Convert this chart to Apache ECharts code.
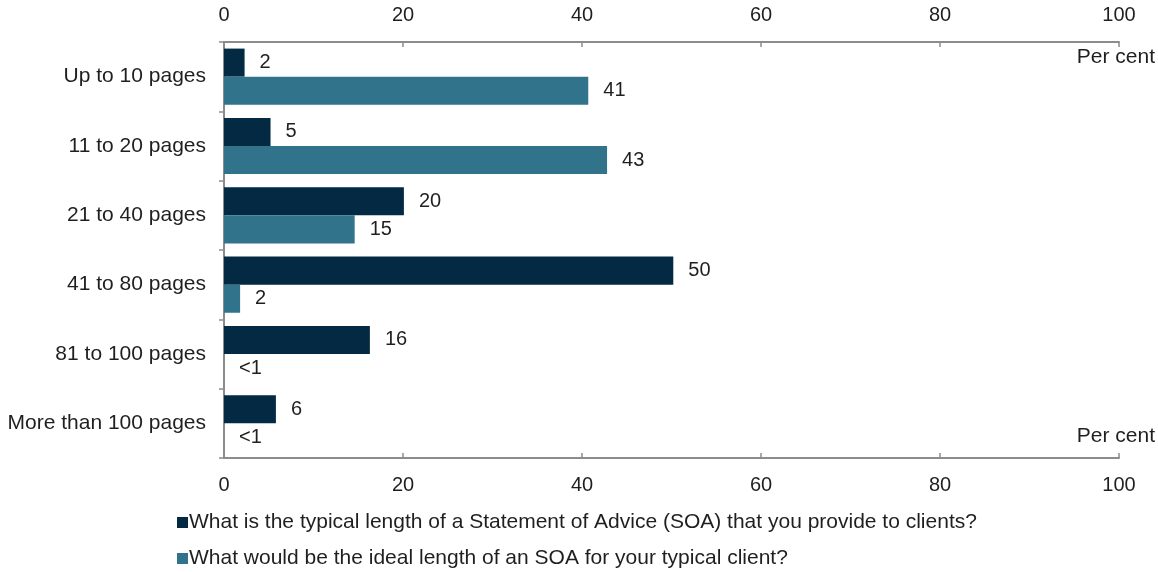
<!DOCTYPE html>
<html>
<head>
<meta charset="utf-8">
<script src="https://cdn.jsdelivr.net/npm/echarts@6/dist/echarts.min.js"></script>
<style>
  html, body { margin: 0; padding: 0; background: #fff; }
  #chart { width: 1158px; height: 572px; }
</style>
</head>
<body>
<div id="chart"></div>
<script>
// categories (top to bottom)
const categories = ['Up to 10 pages', '11 to 20 pages', '21 to 40 pages', '41 to 80 pages', '81 to 100 pages', 'More than 100 pages']

const typicalValues = [2.3, 5.2, 20.1, 50.2, 16.3, 5.8]
const typicalLabels = ['2', '5', '20', '50', '16', '6']
const idealValues = [40.7, 42.8, 14.6, 1.8, 0, 0]
const idealLabels = ['41', '43', '15', '2', '<1', '<1']

const seriesNames = [
  'What is the typical length of a Statement of Advice (SOA) that you provide to clients?',
  'What would be the ideal length of an SOA for your typical client?'
]
const xTicks = [0, 20, 40, 60, 80, 100]

const font = 'Liberation Sans, Arial, sans-serif'
const axisColor = '#8c8c8c'
const textColor = '#1f1f1f'

const chart = echarts.init(document.getElementById('chart'))

const xAxisBase = {
  type: 'value',
  min: xTicks[0],
  max: xTicks[xTicks.length - 1],
  interval: 20,
  splitLine: { show: false },
  axisLine: { show: true, lineStyle: { color: axisColor, width: 2 } },
  axisTick: { show: true, inside: true, length: 5, lineStyle: { color: axisColor, width: 1.5 } },
  axisLabel: { color: textColor, fontSize: 20, fontFamily: font, margin: 17 }
}

const labelStyle = {
  show: true,
  position: 'right',
  distance: 15,
  color: textColor,
  fontSize: 20,
  fontFamily: font
}

// one legend per row so they stack like the original
const legendBase = {
  left: 172,
  itemWidth: 11,
  itemHeight: 11,
  icon: 'rect',
  textStyle: { color: textColor, fontSize: 21, fontFamily: font, padding: [0, 0, 0, -4] }
}

const option = {
  animation: false,
  backgroundColor: '#fff',
  grid: { left: 224, right: 39, top: 42, bottom: 114, containLabel: false },
  xAxis: [
    Object.assign({}, xAxisBase, { position: 'top' }),
    Object.assign({}, xAxisBase, { position: 'bottom' })
  ],
  yAxis: {
    type: 'category',
    inverse: true,
    data: categories,
    axisLine: { show: true, lineStyle: { color: axisColor, width: 2 } },
    axisTick: { show: true, length: 5, lineStyle: { color: axisColor, width: 1.5 } },
    axisLabel: { color: textColor, fontSize: 21, fontFamily: font, margin: 18 }
  },
  legend: [
    Object.assign({}, legendBase, { top: 507, data: [seriesNames[0]] }),
    Object.assign({}, legendBase, { top: 543, data: [seriesNames[1]] })
  ],
  series: [
    {
      name: seriesNames[0],
      type: 'bar',
      xAxisIndex: 1,
      data: typicalValues,
      barGap: '0%',
      barCategoryGap: '19%',
      itemStyle: { color: '#032a42' },
      label: Object.assign({}, labelStyle, {
        formatter: p => typicalLabels[p.dataIndex]
      })
    },
    {
      name: seriesNames[1],
      type: 'bar',
      xAxisIndex: 1,
      data: idealValues,
      itemStyle: { color: '#31738b' },
      label: Object.assign({}, labelStyle, {
        formatter: p => idealLabels[p.dataIndex]
      })
    }
  ],
  graphic: [
    {
      type: 'text', right: 3, top: 47,
      style: { text: 'Per cent', fill: textColor, fontSize: 21, fontFamily: font }
    },
    {
      type: 'text', right: 3, top: 426,
      style: { text: 'Per cent', fill: textColor, fontSize: 21, fontFamily: font }
    }
  ]
}

chart.setOption(option)
</script>
</body>
</html>
